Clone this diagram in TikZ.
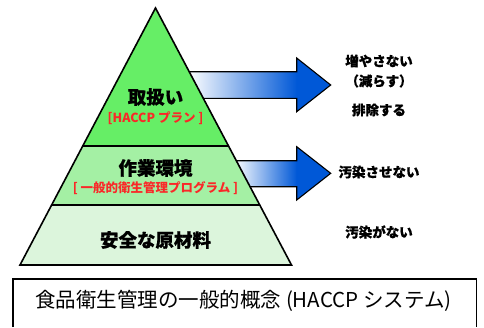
\documentclass[tikz,border=0pt]{standalone}
\usepackage{fontspec}
\newfontfamily\jp{Noto Sans CJK JP}
\newfontfamily\jpheavy{Noto Sans CJK JP}[BoldFeatures={FakeBold=0.6}]
\definecolor{tierA}{RGB}{102,238,102}
\definecolor{tierB}{RGB}{164,240,164}
\definecolor{tierC}{RGB}{220,245,220}
\definecolor{arrowblue}{RGB}{0,88,215}
\definecolor{subred}{RGB}{250,40,40}
\begin{document}
\begin{tikzpicture}[x=1pt,y=-1pt,
  tiertitle/.style={font=\jpheavy\bfseries\fontsize{18.5}{20}\selectfont, inner sep=0pt},
  tiersub/.style={font=\jp\bfseries\fontsize{12.5}{14}\selectfont, text=subred, inner sep=0pt},
  effect/.style={font=\jpheavy\bfseries\fontsize{13.5}{15}\selectfont, inner sep=0pt},
  outline/.style={draw=black, line width=1.3pt, line join=miter}]
\useasboundingbox (0,0) rectangle (484,327);
\fill[white] (0,0) rectangle (484,327);
% arrows (behind pyramid)
\shade[left color=white, right color=arrowblue] (188,71.7) rectangle (297,98.3);
\fill[arrowblue] (296.7,58) -- (330.7,85) -- (296.7,111.7) -- cycle;
\draw[outline, line width=1.1pt] (188,71.7) -- (296.7,71.7) -- (296.7,58) -- (330.7,85) -- (296.7,111.7) -- (296.7,98.3) -- (188,98.3);
\shade[left color=white, right color=arrowblue] (234,160.7) rectangle (297,186.7);
\fill[arrowblue] (296.7,146.7) -- (330.7,173.3) -- (296.7,200) -- cycle;
\draw[outline, line width=1.1pt] (234,160.7) -- (296.7,160.7) -- (296.7,146.7) -- (330.7,173.3) -- (296.7,200) -- (296.7,186.7) -- (234,186.7);
% pyramid
\begin{scope}
  \clip (155.5,8) -- (291.5,265) -- (20,265) -- cycle;
  \fill[tierA] (0,0) rectangle (484,146);
  \fill[tierB] (0,146) rectangle (484,205);
  \fill[tierC] (0,205) rectangle (484,266);
  \draw[line width=1.1pt] (0,146) -- (484,146);
  \draw[line width=1.1pt] (0,205) -- (484,205);
\end{scope}
\draw[outline, line width=1.6pt] (155.5,8) -- (291.5,265) -- (20,265) -- cycle;
% tier texts
\node[tiertitle] (t1) at (155.5,97) {取扱い};
\node[tiersub] (s1) at (155.5,118) {[HACCP プラン ]};
\node[tiertitle] (t2) at (155.5,168) {作業環境};
\node[tiersub] (s2) at (155.5,188) {[ 一般的衛生管理プログラム ]};
\node[tiertitle] (t3) at (155.5,240) {安全な原材料};
% effects
\node[effect] (e1) at (379,61) {増やさない};
\node[effect] (e2) at (379,81) {（減らす）};
\node[effect] (e3) at (379,110) {排除する};
\node[effect] (e4) at (379,172) {汚染させない};
\node[effect] (e5) at (379,232) {汚染がない};
% caption box
\draw[line width=1.1pt] (13,327) -- (13,279) -- (476.5,279) -- (476.5,327);
\node[font=\jp\fontsize{20.5}{22}\selectfont, inner sep=0pt] (cap) at (243.5,301) {食品衛生管理の一般的概念 (HACCP システム)};
\end{tikzpicture}
\end{document}
